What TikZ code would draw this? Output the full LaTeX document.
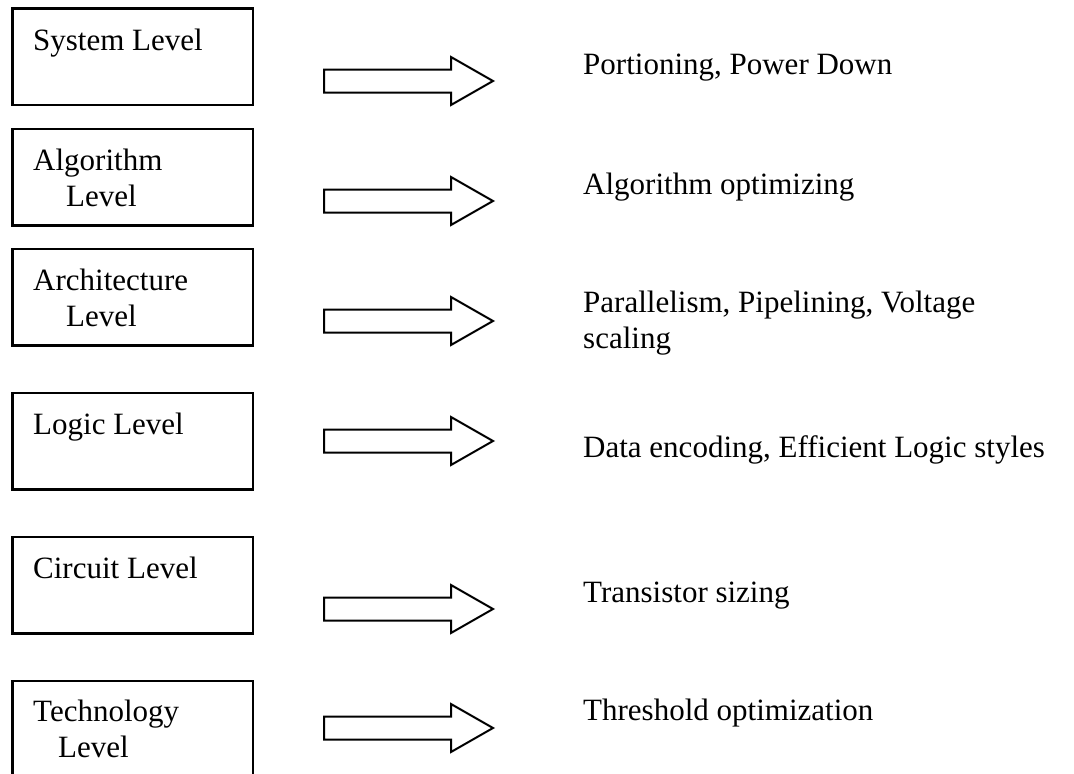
\documentclass[tikz,border=0pt]{standalone}
\usepackage{fontspec}
\setmainfont{Liberation Serif}
\usepackage{tikz}

\tikzset{
  levelbox/.style = {line width = 2.6pt},
  blockarrow/.style = {line width = 2pt, line join = miter},
  lbl/.style = {anchor = base west, inner sep = 0pt, align = left,
    font = \fontsize{31}{36}\selectfont}
}

\begin{document}
\begin{tikzpicture}[x = 1pt, y = -1pt]
\useasboundingbox (0, 0) rectangle (1074, 774);
% level boxes
\foreach \t in {8.3, 129, 249, 393, 537, 681}
  \draw [levelbox] (12.3, \t) rectangle ++(240.7, 96.5);
% (two-line labels sit on the baseline of their last line)
\node (sys) [lbl] at (33, 50.5) {System Level};
\node (alg) [lbl] at (33, 206) {Algorithm\\\hspace*{33pt}Level};
\node (arch) [lbl] at (33, 326) {Architecture\\\hspace*{33pt}Level};
\node (logic) [lbl] at (33, 434) {Logic Level};
\node (circ) [lbl] at (33, 578) {Circuit Level};
\node (tech) [lbl] at (33, 757) {Technology\\\hspace*{25pt}Level};
% block arrows
\foreach \c in {81, 201, 321, 441, 609, 728}
  \draw [blockarrow] (324, \c) ++(0, -11.5) -- ++(127, 0) -- ++(0, -12.5)
    -- ++(42, 24) -- ++(-42, 24) -- ++(0, -12.5) -- ++(-127, 0) -- cycle;
% techniques
\node (sysopt) [lbl] at (583, 74) {Portioning, Power Down};
\node (algopt) [lbl] at (583, 194) {Algorithm optimizing};
\node (archopt) [lbl] at (583, 348) {Parallelism, Pipelining, Voltage\\scaling};
\node (logicopt) [lbl] at (583, 457) {Data encoding, Efficient Logic styles};
\node (circopt) [lbl] at (583, 602) {Transistor sizing};
\node (techopt) [lbl] at (583, 720) {Threshold optimization};
\end{tikzpicture}
\end{document}
